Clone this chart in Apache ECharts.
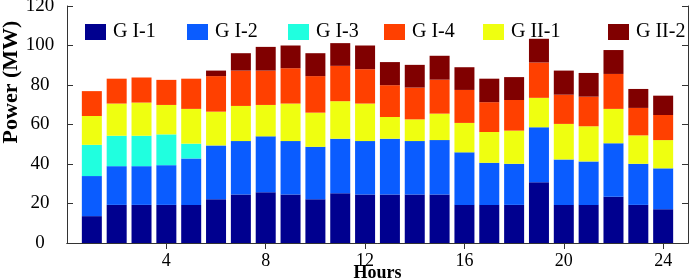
<!DOCTYPE html>
<html>
<head>
<meta charset="utf-8">
<script src="https://cdn.jsdelivr.net/npm/echarts@6/dist/echarts.min.js"></script>
<style>
html,body{margin:0;padding:0;background:#fff;}
#chart{width:692px;height:280px;}
</style>
</head>
<body>
<div id="chart"></div>
<script>
const hours = [1,2,3,4,5,6,7,8,9,10,11,12,13,14,15,16,17,18,19,20,21,22,23,24];
const xTicks = [4,8,12,16,20,24];
const yTicks = [0,20,40,60,80,100,120];
const GI1  = [13.6,19.3,19.3,19.3,19.3,22.2,24.6,25.7,24.6,22.2,25.2,24.6,24.6,24.6,24.6,19.3,19.3,19.3,30.8,19.3,19.3,23.4,19.3,17.1];
const GI2  = [20.3,19.6,19.6,20.1,23.5,27.2,27.0,28.3,27.0,26.5,27.6,27.0,28.2,27.0,27.5,26.6,21.3,20.8,27.8,23.0,22.0,27.1,20.8,20.7];
const GI3  = [15.8,15.4,15.4,15.6,7.5,0,0,0,0,0,0,0,0,0,0,0,0,0,0,0,0,0,0,0];
const GII1 = [14.6,16.3,16.8,14.9,17.6,17.1,17.8,15.9,19.0,17.3,19.0,19.0,11.0,11.0,13.4,14.9,15.6,16.8,14.9,18.0,17.8,17.4,14.4,14.3];
const GI4  = [12.6,12.6,12.7,12.7,15.3,18.0,17.9,17.4,17.9,18.5,17.9,17.4,16.1,16.1,17.2,16.7,15.1,15.5,17.9,14.8,15.0,17.7,13.9,12.7];
const GII2 = [0,0,0,0,0,2.8,8.8,12.0,11.5,11.6,11.5,12.0,11.7,11.5,12.1,11.5,11.9,11.6,12.0,12.2,12.0,12.1,9.6,9.8];

const names = ['G I-1','G I-2','G I-3','G I-4','G II-1','G II-2'];
const colors = {'G I-1':'#00008F','G I-2':'#0A5CFF','G I-3':'#20FFDF','G I-4':'#FF4000','G II-1':'#EFFF10','G II-2':'#800000'};
// stacking order bottom to top
const stackOrder = [['G I-1',GI1],['G I-2',GI2],['G I-3',GI3],['G II-1',GII1],['G I-4',GI4],['G II-2',GII2]];

// axis runs from 0 to 25 hours; bars sit on the hour positions
const axisCats = [0].concat(hours, [hours[hours.length-1] + 1]).map(String);

const serif = 'Liberation Serif, Times New Roman, serif';
const chart = echarts.init(document.getElementById('chart'), null, {renderer:'canvas'});

const legendLeft = [80,182,283,379,478,603];
const legends = names.map((n,i)=>({
  data:[n], left:legendLeft[i], top:17, itemWidth:21, itemHeight:16, itemGap:0,
  icon:'rect', textStyle:{fontFamily:serif, fontSize:20, color:'#000', padding:[0,0,0,2]}
}));

const tickOn = (idx, val) => xTicks.indexOf(Number(val)) >= 0;

const option = {
  animation:false,
  backgroundColor:'#fff',
  legend: legends,
  grid:{left:67, right:4, top:6, bottom:37, containLabel:false, outerBoundsMode:'none'},
  graphic:[{
    type:'text', x:11, y:82, rotation:Math.PI/2,
    style:{text:'Power (MW)', font:'bold 22px ' + serif, fill:'#000', align:'center', verticalAlign:'middle'}
  }],
  xAxis:[
    {
      type:'category', data:axisCats, boundaryGap:false, position:'bottom',
      name:'Hours', nameLocation:'middle', nameGap:21, nameMoveOverlap:false,
      nameTextStyle:{fontFamily:serif, fontSize:18, fontWeight:'bold', color:'#000'},
      axisLine:{show:true, lineStyle:{color:'#333', width:1}},
      axisTick:{show:true, inside:true, length:6, interval:tickOn, lineStyle:{color:'#333'}},
      axisLabel:{fontFamily:serif, fontSize:18, color:'#000', margin:9, interval:tickOn},
      splitLine:{show:false}
    },
    {
      type:'category', data:axisCats, boundaryGap:false, position:'top',
      axisLine:{show:true, lineStyle:{color:'#333', width:1}},
      axisTick:{show:true, inside:true, length:6, interval:tickOn, lineStyle:{color:'#333'}},
      axisLabel:{show:false}, splitLine:{show:false}
    }
  ],
  yAxis:[
    {
      type:'value', min:0, max:120, interval:20, position:'left',
      axisLine:{show:true, lineStyle:{color:'#333', width:1}},
      axisTick:{show:true, inside:true, length:6, lineStyle:{color:'#333'}},
      axisLabel:{fontFamily:serif, fontSize:19, color:'#000', margin:27, align:'center',
        formatter:v => yTicks.indexOf(v) >= 0 ? String(v) : ''},
      splitLine:{show:false}
    },
    {
      type:'value', min:0, max:120, interval:20, position:'right',
      axisLine:{show:true, lineStyle:{color:'#333', width:1}},
      axisTick:{show:true, inside:true, length:6, lineStyle:{color:'#333'}},
      axisLabel:{show:false}, splitLine:{show:false}
    }
  ],
  series: stackOrder.map(([n,arr])=>({
    name:n, type:'bar', stack:'total', xAxisIndex:0, yAxisIndex:0,
    barWidth:20,
    itemStyle:{color:colors[n]},
    data: axisCats.map(c => {
      const i = hours.indexOf(Number(c));
      return i >= 0 ? arr[i] : '-';
    })
  }))
};
chart.setOption(option);
</script>
</body>
</html>
